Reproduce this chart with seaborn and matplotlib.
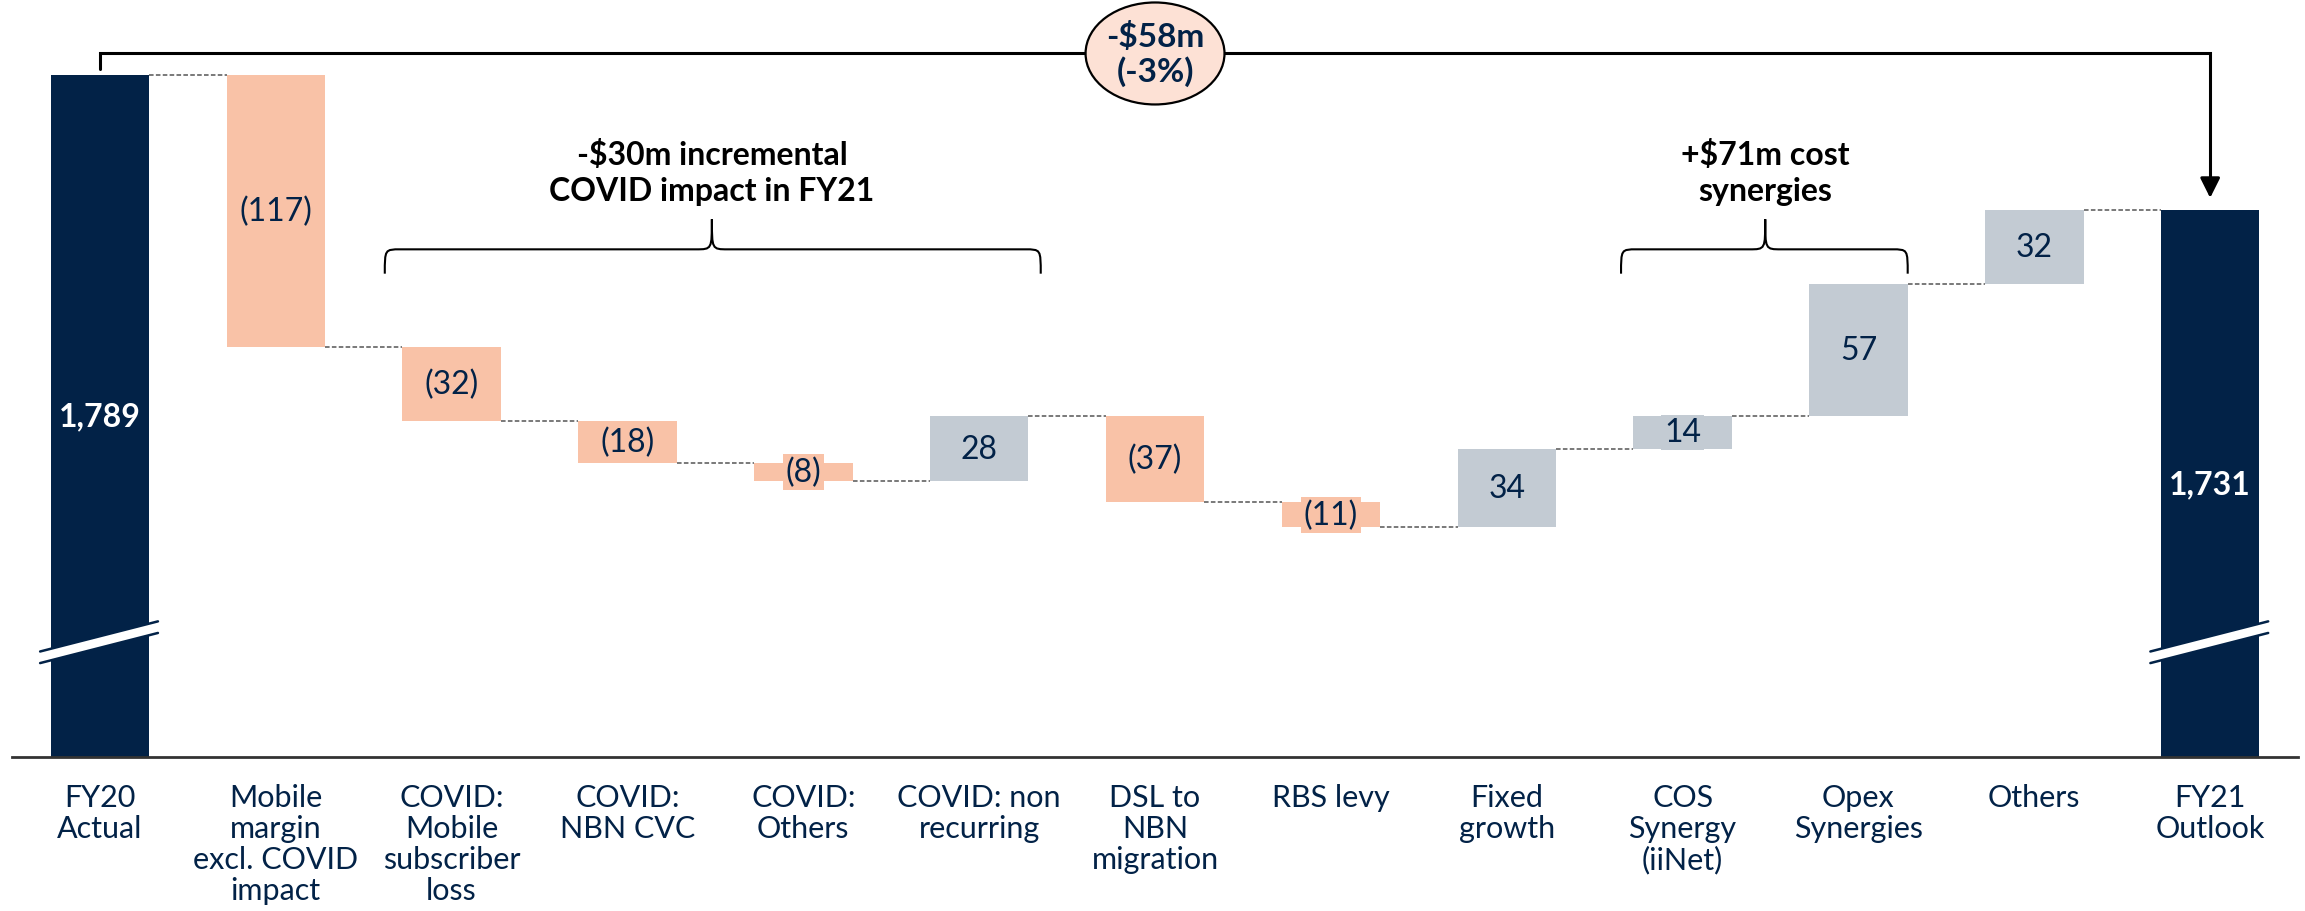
import numpy as np
import pandas as pd
import matplotlib
matplotlib.use("Agg")
import matplotlib.pyplot as plt
from matplotlib.patches import Ellipse, PathPatch, Polygon
from matplotlib.path import Path
import seaborn as sns

# data
categories = ["FY20\nActual", "Mobile\nmargin\nexcl. COVID\nimpact",
              "COVID:\nMobile\nsubscriber\nloss", "COVID:\nNBN CVC",
              "COVID:\nOthers", "COVID: non\nrecurring", "DSL to\nNBN\nmigration",
              "RBS levy", "Fixed\ngrowth", "COS\nSynergy\n(iiNet)",
              "Opex\nSynergies", "Others", "FY21\nOutlook"]
values = [1789, -117, -32, -18, -8, 28, -37, -11, 34, 14, 57, 32, 1731]
kinds = ["total"] + ["neg", "neg", "neg", "neg", "pos", "neg", "neg",
                     "pos", "pos", "pos", "pos"] + ["total"]
bar_labels = ["1,789", "(117)", "(32)", "(18)", "(8)", "28", "(37)", "(11)",
              "34", "14", "57", "32", "1,731"]
total_change = "-$58m\n(-3%)"
covid_note = "-$30m incremental\nCOVID impact in FY21"
synergy_note = "+$71m cost\nsynergies"

NAVY = "#022247"
SALMON = "#F9C2A7"
GREY = "#C3CBD3"
PINK = "#FDE1D5"
palette = {"total": NAVY, "neg": SALMON, "pos": GREY}

YMIN, YMAX = 1495, 1822

# floating bar geometry
bottoms, heights, levels = [], [], []
running = values[0]
for v, k in zip(values, kinds):
    if k == "total":
        bottoms.append(0)
        heights.append(v)
        running = v
    else:
        new = running + v
        bottoms.append(min(running, new))
        heights.append(abs(v))
        running = new
    levels.append(running)

df = pd.DataFrame({"step": categories, "height": heights})

sns.set_style("white")
plt.rcParams["font.family"] = ["Lato", "DejaVu Sans"]

fig = plt.figure(figsize=(23.05, 9.12), dpi=100)
ax = fig.add_axes([0.0052, 0.1689, 0.9918, 0.8311])

sns.barplot(data=df, x="step", y="height", bottom=bottoms, width=0.56,
            color=NAVY, errorbar=None, linewidth=0, ax=ax)
for patch, k in zip(ax.patches, kinds):
    patch.set_facecolor(palette[k])
    patch.set_edgecolor(palette[k])

ax.set_ylim(YMIN, YMAX)
ax.set_xlim(-0.5, len(categories) - 0.5)
ax.set_xlabel("")
ax.set_ylabel("")
ax.set_yticks([])
for s in ["left", "right", "top"]:
    ax.spines[s].set_visible(False)
ax.spines["bottom"].set_color("#333333")
ax.spines["bottom"].set_linewidth(2)
ax.set_xticks(np.arange(-0.5, len(categories), 1), minor=True)
ax.tick_params(axis="x", which="minor", length=9, width=1.3, color="#333333")
ax.tick_params(axis="x", which="major", length=0, pad=19, labelsize=22,
               labelcolor=NAVY)
for t in ax.get_xticklabels():
    t.set_linespacing(1.12)

hw = 0.28
# dashed connectors
for i in range(len(values) - 1):
    ax.plot([i + hw, i + 1 - hw], [levels[i], levels[i]], color="#555555",
            lw=1.1, ls=(0, (3, 1.5)), zorder=1)

# value labels
for i, (lab, k) in enumerate(zip(bar_labels, kinds)):
    if k == "total":
        ax.text(i, (YMIN + values[i]) / 2, lab, ha="center", va="center",
                color="white", fontsize=23, fontweight="bold", zorder=5)
    else:
        ax.text(i, bottoms[i] + heights[i] / 2, lab, ha="center", va="center",
                color=NAVY, fontsize=23, zorder=5,
                bbox=dict(facecolor=palette[k], edgecolor="none", pad=2))

# axis break marks on the total bars
for i in [0, len(values) - 1]:
    x0, x1 = i - 0.34, i + 0.33
    y0, y1, gap = 1540.5, 1553.5, 5.0
    ax.add_patch(Polygon([[x0, y0], [x1, y1], [x1, y1 - gap], [x0, y0 - gap]],
                         closed=True, facecolor="white", edgecolor="none", zorder=3))
    ax.plot([x0, x1], [y0, y1], color=NAVY, lw=1.8, zorder=4)
    ax.plot([x0, x1], [y0 - gap, y1 - gap], color=NAVY, lw=1.8, zorder=4)

# overall bracket with arrow
yb = 1798.5
last = len(values) - 1
ax.plot([0, 0, last, last], [1792, yb, yb, 1745], color="black", lw=2.2,
        zorder=4, solid_joinstyle="miter")
ax.annotate("", xy=(last, 1735), xytext=(last, 1746),
            arrowprops=dict(arrowstyle="-|>", color="black", lw=2.2,
                            mutation_scale=30), zorder=4)
ax.add_patch(Ellipse((6, yb), 0.79, 44, facecolor=PINK, edgecolor="black",
                     lw=1.6, zorder=5))
ax.text(6, yb, total_change, ha="center", va="center", fontsize=24,
        fontweight="bold", color=NAVY, zorder=6, linespacing=1.15)


def brace(x0, x1, xm, ybot=1703.5, yh=1714, yp=1727, dx=0.09):
    verts = [(x0, ybot), (x0, yh), (x0, yh), (x0 + dx, yh),
             (xm - dx, yh),
             (xm, yh), (xm, yh), (xm, yp),
             (xm, yh), (xm, yh), (xm + dx, yh),
             (x1 - dx, yh),
             (x1, yh), (x1, yh), (x1, ybot)]
    codes = [Path.MOVETO, Path.CURVE4, Path.CURVE4, Path.CURVE4,
             Path.LINETO,
             Path.CURVE4, Path.CURVE4, Path.CURVE4,
             Path.CURVE4, Path.CURVE4, Path.CURVE4,
             Path.LINETO,
             Path.CURVE4, Path.CURVE4, Path.CURVE4]
    ax.add_patch(PathPatch(Path(verts, codes), facecolor="none",
                           edgecolor="black", lw=1.5, zorder=4))


brace(1.62, 5.35, 3.48)
brace(8.65, 10.28, 9.47)
ax.text(3.48, 1747.5, covid_note, ha="center", va="center", fontsize=23,
        fontweight="bold", color="black", linespacing=1.3)
ax.text(9.47, 1747.5, synergy_note, ha="center", va="center", fontsize=23,
        fontweight="bold", color="black", linespacing=1.3)

fig.savefig("out.png", dpi=100)
